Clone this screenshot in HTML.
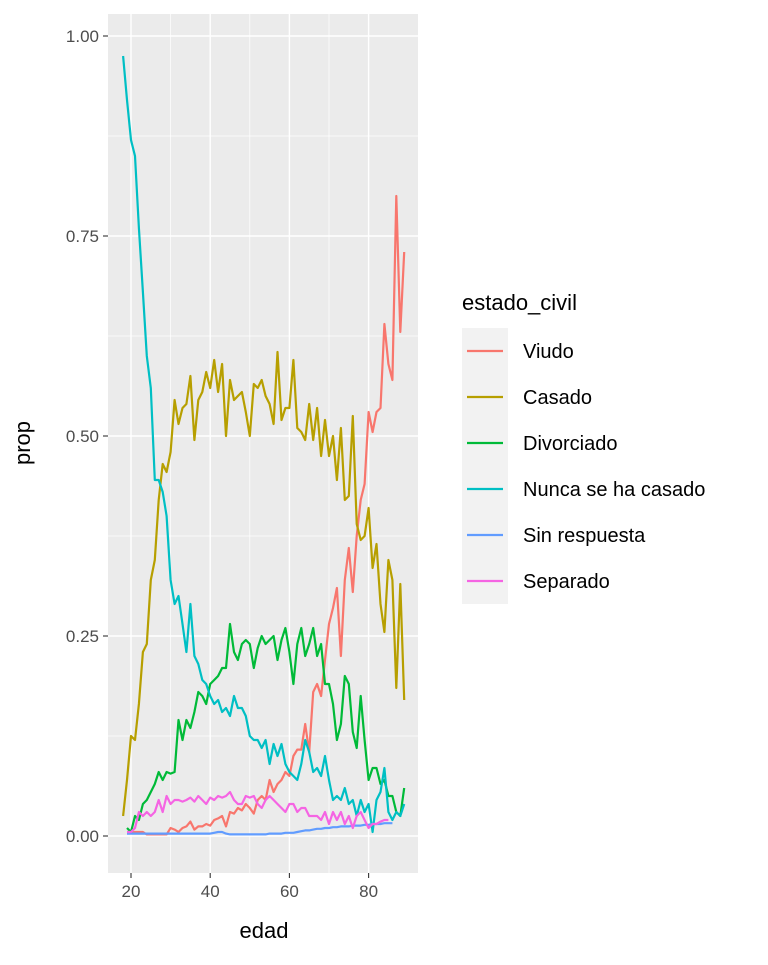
<!DOCTYPE html>
<html><head><meta charset="utf-8"><style>
body{margin:0;background:#fff;}
svg text{font-family:"Liberation Sans",sans-serif;}
</style></head><body>
<svg id="chart" width="768" height="960">
<rect x="108" y="14" width="310" height="859" fill="#ebebeb"/>
<g id="grid"></g><g id="series"></g><g id="axes"></g><g id="legend"></g>
<text x="30" y="443" transform="rotate(-90 30 443)" text-anchor="middle" font-size="22">prop</text>
<text x="264" y="938" text-anchor="middle" font-size="22">edad</text>
</svg>
<script>
const ages=[];for(let a=18;a<=89;a++)ages.push(a);
const casado=[0.025,0.07,0.125,0.12,0.165,0.23,0.24,0.32,0.345,0.42,0.465,0.455,0.48,0.545,0.515,0.535,0.54,0.575,0.495,0.545,0.555,0.58,0.56,0.595,0.555,0.59,0.5,0.57,0.545,0.55,0.555,0.53,0.5,0.565,0.56,0.57,0.55,0.54,0.515,0.605,0.52,0.535,0.535,0.595,0.51,0.505,0.495,0.54,0.495,0.535,0.475,0.52,0.475,0.5,0.445,0.51,0.42,0.425,0.525,0.39,0.37,0.375,0.41,0.335,0.365,0.29,0.255,0.345,0.32,0.185,0.315,0.17];
const nunca=[0.975,0.92,0.87,0.85,0.76,0.68,0.6,0.56,0.445,0.445,0.43,0.40,0.32,0.29,0.30,0.265,0.23,0.29,0.225,0.215,0.195,0.19,0.175,0.165,0.17,0.155,0.16,0.15,0.175,0.16,0.16,0.15,0.125,0.12,0.12,0.11,0.12,0.09,0.115,0.1,0.115,0.09,0.08,0.075,0.07,0.09,0.12,0.105,0.08,0.085,0.075,0.1,0.07,0.045,0.05,0.045,0.06,0.04,0.045,0.025,0.045,0.03,0.04,0.005,0.045,0.055,0.085,0.03,0.02,0.03,0.025,0.04];
const divorciado=[null,0.01,0.005,0.025,0.02,0.04,0.045,0.055,0.065,0.08,0.07,0.08,0.078,0.08,0.145,0.12,0.145,0.135,0.155,0.18,0.175,0.165,0.19,0.195,0.2,0.21,0.21,0.265,0.23,0.22,0.24,0.245,0.24,0.21,0.235,0.25,0.24,0.245,0.25,0.22,0.245,0.26,0.23,0.19,0.24,0.26,0.225,0.24,0.26,0.225,0.24,0.19,0.19,0.165,0.12,0.14,0.2,0.19,0.13,0.11,0.175,0.12,0.07,0.085,0.085,0.065,0.07,0.05,0.05,0.03,0.025,0.06];
const viudo=[null,0.005,0.005,0.005,0.005,0.005,0.002,0.002,0.002,0.002,0.002,0.002,0.01,0.008,0.005,0.01,0.012,0.018,0.008,0.012,0.012,0.015,0.013,0.02,0.022,0.025,0.012,0.03,0.028,0.035,0.032,0.04,0.035,0.028,0.045,0.05,0.045,0.07,0.055,0.065,0.07,0.08,0.075,0.1,0.108,0.108,0.14,0.105,0.18,0.19,0.175,0.22,0.265,0.285,0.31,0.225,0.32,0.36,0.305,0.375,0.42,0.44,0.53,0.505,0.53,0.535,0.64,0.59,0.57,0.80,0.63,0.73];
const sinResp=[null,0.003,0.003,0.003,0.003,0.003,0.003,0.003,0.003,0.003,0.003,0.003,0.003,0.003,0.003,0.003,0.003,0.003,0.003,0.003,0.003,0.003,0.003,0.004,0.005,0.005,0.003,0.002,0.002,0.002,0.002,0.002,0.002,0.002,0.002,0.002,0.002,0.003,0.003,0.003,0.003,0.004,0.004,0.004,0.005,0.006,0.007,0.007,0.008,0.009,0.009,0.01,0.01,0.011,0.011,0.012,0.012,0.012,0.013,0.013,0.013,0.014,0.014,0.015,0.015,0.015,0.016,0.016,0.016,null,null,null];
const separado=[null,0.005,0.005,0.01,0.03,0.025,0.03,0.025,0.03,0.045,0.03,0.05,0.04,0.045,0.045,0.043,0.045,0.048,0.043,0.05,0.045,0.04,0.048,0.045,0.05,0.048,0.05,0.055,0.045,0.04,0.04,0.05,0.048,0.05,0.04,0.035,0.045,0.05,0.045,0.04,0.035,0.03,0.04,0.04,0.03,0.035,0.035,0.025,0.025,0.025,0.02,0.03,0.015,0.03,0.02,0.03,0.015,0.025,0.01,0.025,0.03,0.02,0.01,0.015,0.015,0.018,0.02,0.02,null,null,null,null];
const seriesNames=["Viudo","Casado","Divorciado","Nunca se ha casado","Sin respuesta","Separado"];
const seriesData=[viudo,casado,divorciado,nunca,sinResp,separado];
const colors=["#F8766D","#B79F00","#00BA38","#00BFC4","#619CFF","#F564E3"];
const xTicks=[20,40,60,80];
const xMinor=[30,50,70];
const yTicks=[0,0.25,0.5,0.75,1.0];
const yTickLabels=["0.00","0.25","0.50","0.75","1.00"];
const X=v=>131+(v-20)*3.96, Y=v=>836-v*800;
const NS="http://www.w3.org/2000/svg";
function mk(p,t,at){const e=document.createElementNS(NS,t);for(const k in at)e.setAttribute(k,at[k]);p.appendChild(e);return e;}
const grid=document.getElementById('grid'),axes=document.getElementById('axes');
for(let i=0;i<yTicks.length-1;i++){const m=(yTicks[i]+yTicks[i+1])/2;
 const l=mk(grid,'line',{x1:108,x2:418,y1:Y(m),y2:Y(m),stroke:'#fff','stroke-width':0.7});
 
 }
xMinor.forEach(m=>{
 const l=mk(grid,'line',{x1:X(m),x2:X(m),y1:14,y2:873,stroke:'#fff','stroke-width':0.7});
 
 });
yTicks.forEach((v,i)=>{const l=mk(grid,'line',{x1:108,x2:418,y1:Y(v),y2:Y(v),stroke:'#fff','stroke-width':1.4});
 
 
 const t=mk(axes,'line',{x1:103,x2:108,y1:Y(v),y2:Y(v),stroke:'#333','stroke-width':1.1});
 
 
 const tx=mk(axes,'text',{x:99,y:Y(v)+6,'text-anchor':'end','font-size':17,fill:'#4d4d4d'});tx.textContent=yTickLabels[i];
 
 });
xTicks.forEach(v=>{const l=mk(grid,'line',{x1:X(v),x2:X(v),y1:14,y2:873,stroke:'#fff','stroke-width':1.4});
 
 
 const t=mk(axes,'line',{x1:X(v),x2:X(v),y1:873,y2:878,stroke:'#333','stroke-width':1.1});
 
 
 const tx=mk(axes,'text',{x:X(v),y:897,'text-anchor':'middle','font-size':17,fill:'#4d4d4d'});tx.textContent=v;
 
 });
const sg=document.getElementById('series');
seriesData.forEach((d,si)=>{let pts=[];d.forEach((v,i)=>{if(v!==null)pts.push(X(ages[i]).toFixed(1)+','+Y(v).toFixed(1));});
 const p=mk(sg,'polyline',{points:pts.join(' '),fill:'none',stroke:colors[si],'stroke-width':2.2,'stroke-linejoin':'round'});
 
 });
const lg=document.getElementById('legend');
const lt=mk(lg,'text',{x:462,y:310,'font-size':22});lt.textContent='estado_civil';


seriesNames.forEach((n,i)=>{const y0=328+i*46;
 const r=mk(lg,'rect',{x:462,y:y0,width:46,height:46,fill:'#f2f2f2'});
 
 
 const l=mk(lg,'line',{x1:467,x2:503,y1:y0+23,y2:y0+23,stroke:colors[i],'stroke-width':2.2});
 
 
 const t=mk(lg,'text',{x:523,y:y0+30,'font-size':20});t.textContent=n;
 
 });
</script>
</body></html>
